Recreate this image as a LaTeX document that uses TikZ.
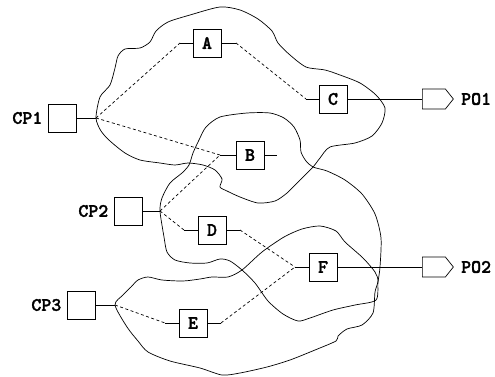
\documentclass[tikz,border=0pt]{standalone}
\usepackage{fontspec}
\newfontfamily\pinfont[FakeBold=1.6]{lmmonolt10-bold.otf}
\usetikzlibrary{shapes.symbols, positioning}

\tikzset{
    box/.style={draw, rectangle, minimum width=28pt, minimum height=28pt, inner sep=0pt,
        font=\pinfont\fontsize{19}{19}\selectfont},
    outport/.style={draw, signal, signal to=east, signal pointer angle=103,
        minimum width=31pt, minimum height=20pt, inner sep=0pt},
    tag/.style={font=\pinfont\fontsize{19}{19}\selectfont, inner sep=0pt},
    link/.style={dash pattern=on 3pt off 2.5pt},
    cone/.style={line width=0.7pt}
}

\begin{document}
\begin{tikzpicture}[x=1pt, y=-1pt, line width=0.7pt]
        \useasboundingbox (0,0) rectangle (495,377);

        % Draw the cones
        \draw[cone] plot[smooth cycle, tension=0.45] coordinates {
            (96,118) (100,97) (110,85) (115,68) (118,56) (125,49) (140,48) (150,42)
            (156,31) (168,22) (190,15) (220,7) (240,10) (258,19) (272,31) (278,43)
            (290,55) (306,67) (325,70) (340,75) (360,83) (376,95) (385,108) (382,123)
            (372,136) (355,143) (330,147) (320,158) (313,167) (300,180) (287,193)
            (275,201) (258,203) (240,197) (227,191) (220,187) (222,179) (215,170)
            (203,165) (188,163) (175,165) (160,163) (140,160) (125,153) (110,141)
            (101,131)};
        \draw[cone] plot[smooth cycle, tension=0.45] coordinates {
            (160,211) (162,198) (170,183) (182,173) (189,165) (193,153) (199,140)
            (206,127) (220,117) (247,113) (270,113) (284,118) (294,127) (300,140)
            (301,152) (306,161) (313,167) (327,171) (345,180) (362,194) (375,214)
            (381,238) (380,267) (378,282) (376,300) (355,305) (333,310) (310,318)
            (298,321) (283,314) (268,301) (255,283) (242,270) (230,261) (220,259)
            (207,263) (190,263) (175,260) (167,252) (164,237)};
        \draw[cone] plot[smooth cycle, tension=0.45] coordinates {
            (115,305) (123,295) (131,287) (138,280) (148,277) (162,280) (183,281)
            (200,279) (212,277) (228,277) (242,270) (262,252) (284,237) (302,229)
            (320,226) (336,231) (345,242) (363,258) (375,272) (378,281) (375,292)
            (373,313) (362,325) (347,329) (338,336) (336,341) (315,350) (290,360)
            (267,367) (240,373) (222,375) (200,368) (170,361) (148,352) (138,341)
            (127,327)};

        % Draw the controllable inputs
        \node[box] (cp1) at (62,118) {};
        \node[box] (cp2) at (128,211) {};
        \node[box] (cp3) at (81,305) {};
        \node[tag, left=5pt of cp1] (cp1lbl) {CP1};
        \node[tag, left=5pt of cp2] (cp2lbl) {CP2};
        \node[tag, left=5pt of cp3] (cp3lbl) {CP3};

        % Draw the gates
        \node[box] (gateA) at (207,43) {A};
        \node[box] (gateB) at (250,155) {B};
        \node[box] (gateC) at (333,99) {C};
        \node[box] (gateD) at (212,230) {D};
        \node[box] (gateE) at (193,323) {E};
        \node[box] (gateF) at (323,267) {F};

        % Draw the outputs
        \node[outport, anchor=west] (po1) at (422,99) {};
        \node[outport, anchor=west] (po2) at (422,267) {};
        \node[tag, right=7pt of po1.east] (po1lbl) {PO1};
        \node[tag, right=7pt of po2.east] (po2lbl) {PO2};

        % Fanout points and pin ends
        \coordinate (fork1) at (96,118);
        \coordinate (fork2) at (160,211);
        \coordinate (fork3) at (115,305);
        \coordinate (pinA1) at (180,43);
        \coordinate (pinA2) at (236,43);
        \coordinate (pinB1) at (220,155);
        \coordinate (pinB2) at (277,155);
        \coordinate (pinC1) at (306,99);
        \coordinate (pinD1) at (184,230);
        \coordinate (pinD2) at (240,230);
        \coordinate (pinE1) at (165,323);
        \coordinate (pinE2) at (221,323);
        \coordinate (pinF1) at (295,267);

        % Draw the solid wires
        \draw (cp1.east) -- (fork1);
        \draw (cp2.east) -- (fork2);
        \draw (cp3.east) -- (fork3);
        \draw (pinA1) -- (gateA.west);
        \draw (gateA.east) -- (pinA2);
        \draw (pinB1) -- (gateB.west);
        \draw (gateB.east) -- (pinB2);
        \draw (pinC1) -- (gateC.west);
        \draw (pinD1) -- (gateD.west);
        \draw (gateD.east) -- (pinD2);
        \draw (pinE1) -- (gateE.west);
        \draw (gateE.east) -- (pinE2);
        \draw (pinF1) -- (gateF.west);
        \draw (gateC.east) -- (po1.west);
        \draw (gateF.east) -- (po2.west);

        % Draw the dashed paths
        \draw[link] (fork1) -- (pinA1);
        \draw[link] (fork1) -- (pinB1);
        \draw[link] (pinA2) -- (pinC1);
        \draw[link] (fork2) -- (pinB1);
        \draw[link] (fork2) -- (pinD1);
        \draw[link] (pinD2) -- (pinF1);
        \draw[link] (fork3) -- (pinE1);
        \draw[link] (pinE2) -- (pinF1);
    \end{tikzpicture}
\end{document}
